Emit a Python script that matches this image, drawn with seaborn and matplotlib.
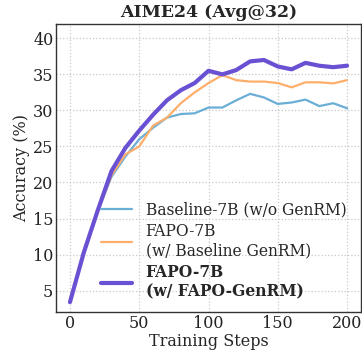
import numpy as np
import pandas as pd
import matplotlib
matplotlib.use("Agg")
import matplotlib.pyplot as plt
import seaborn as sns

# ===============================
# DATOS
# ===============================

steps = [0, 10, 20, 30, 40, 50, 60, 70, 80, 90, 100,
         110, 120, 130, 140, 150, 160, 170, 180, 190, 200]

baseline = [3.6, 10.2, 16.0, 20.8, 23.6, 26.0, 27.6, 29.0, 29.5, 29.6, 30.4,
            30.4, 31.4, 32.3, 31.8, 30.9, 31.1, 31.5, 30.6, 31.0, 30.3]

fapo_base = [3.8, 10.0, 16.0, 21.0, 23.9, 25.0, 27.9, 29.0, 31.0, 32.5, 33.8,
             34.9, 34.2, 34.0, 34.0, 33.8, 33.2, 33.9, 33.9, 33.75, 34.2]

fapo_genrm = [3.4, 10.3, 16.1, 21.6, 24.8, 27.2, 29.4, 31.4, 32.8, 33.8, 35.5,
              35.0, 35.6, 36.8, 37.0, 36.1, 35.7, 36.6, 36.2, 36.0, 36.2]

labels = ["Baseline-7B (w/o GenRM)",
          "FAPO-7B\n(w/ Baseline GenRM)",
          "FAPO-7B\n(w/ FAPO-GenRM)"]

colors = ["#6aaed6", "#fdae6b", "#6a51d4"]
widths = [1.6, 1.6, 3.0]

# ===============================
# GRAFICO
# ===============================

sns.set_style("whitegrid")
plt.rcParams["font.family"] = ["DejaVu Serif"]

fig, ax = plt.subplots(figsize=(3.62, 3.52), dpi=100)

series = [baseline, fapo_base, fapo_genrm]
for vals, lab, c, w in zip(series, labels, colors, widths):
    df = pd.DataFrame({"step": steps, "acc": vals})
    sns.lineplot(data=df, x="step", y="acc", ax=ax, color=c,
                 linewidth=w, label=lab)

ax.set_xlim(-10, 210)
ax.set_ylim(2, 42)
ax.set_xticks([0, 50, 100, 150, 200])
ax.set_yticks([5, 10, 15, 20, 25, 30, 35, 40])

ax.grid(True, linestyle=":", color="#c8c8c8", linewidth=0.9)
for s in ax.spines.values():
    s.set_color("#333333")
    s.set_linewidth(1.0)

ax.tick_params(direction="in", length=3, pad=2, labelsize=11.5, colors="#222222")
ax.set_xlabel("Training Steps", fontsize=11.5, labelpad=1)
ax.set_ylabel("Accuracy (%)", fontsize=11.5, labelpad=2)
ax.set_title("AIME24 (Avg@32)", fontsize=12.5, fontweight="bold", pad=5)

leg = ax.legend(loc="lower right", bbox_to_anchor=(0.952, 0.04),
                frameon=False, fontsize=11.2, borderpad=0,
                handlelength=2.0, handletextpad=0.85,
                labelspacing=0.3, borderaxespad=0)
leg.get_texts()[2].set_fontweight("bold")

fig.subplots_adjust(left=0.155, right=0.997, top=0.932, bottom=0.113)
fig.savefig("out.png", dpi=100)
